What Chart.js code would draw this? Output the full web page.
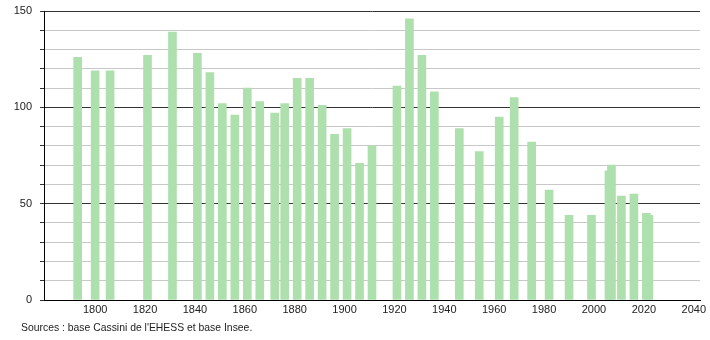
<!DOCTYPE html>
<html>
<head>
<meta charset="utf-8">
<script src="https://cdn.jsdelivr.net/npm/chart.js@4/dist/chart.umd.min.js"></script>
<style>
  html, body { margin: 0; padding: 0; background: #fff; }
  #wrap { position: relative; width: 710px; height: 340px; }
  #c { position: absolute; left: 0; top: 0; }
  #src { position: absolute; left: 21px; top: 322px; font: 10.4px "Liberation Sans", Arial, sans-serif; color: #222; white-space: nowrap; }
</style>
</head>
<body>
<div id="wrap">
  <canvas id="c" width="710" height="340"></canvas>
  <div id="src">Sources : base Cassini de l'EHESS et base Insee.</div>
</div>
<script>
const years = [1793, 1800, 1806, 1821, 1831, 1841, 1846, 1851, 1856, 1861, 1866, 1872, 1876, 1881, 1886, 1891, 1896, 1901, 1906, 1911, 1921, 1926, 1931, 1936, 1946, 1954, 1962, 1968, 1975, 1982, 1990, 1999, 2006, 2007, 2011, 2016, 2021, 2022];
const population = [126, 119, 119, 127, 139, 128, 118, 102, 96, 110, 103, 97, 102, 115, 115, 101, 86, 89, 71, 80, 111, 146, 127, 108, 89, 77, 95, 105, 82, 57, 44, 44, 67, 70, 54, 55, 45, 44];
const xTickLabels = [1800, 1820, 1840, 1860, 1880, 1900, 1920, 1940, 1960, 1980, 2000, 2020, 2040];
const yTickLabels = [0, 50, 100, 150];

const points = years.map((y, i) => ({ x: y, y: population[i] }));
const font = { family: "'Liberation Sans', Arial, sans-serif", size: 11 };

new Chart(document.getElementById('c'), {
  type: 'bar',
  data: {
    datasets: [{
      data: points,
      backgroundColor: '#ade0ad',
      borderWidth: 0,
      barThickness: 8
    }]
  },
  options: {
    responsive: false,
    animation: false,
    layout: { padding: { top: 11, right: 10, left: 0, bottom: 0 } },
    plugins: { legend: { display: false }, tooltip: { enabled: false } },
    scales: {
      x: {
        type: 'linear',
        min: 1779.5,
        max: 2042.5,
        offset: false,
        grid: { display: false, drawTicks: false, offset: false },
        border: { display: true, color: '#000', width: 1 },
        afterBuildTicks: (s) => { s.ticks = xTickLabels.map(v => ({ value: v })); },
        afterFit: (s) => { s.height = 40; s.paddingLeft = 0; s.paddingRight = 0; },
        ticks: { color: '#222', font: font, padding: 3, maxRotation: 0, callback: (v) => String(v) }
      },
      y: {
        min: 0,
        max: 150,
        grid: {
          color: (ctx) => (ctx.tick && yTickLabels.includes(ctx.tick.value)) ? '#333' : '#c8c8c8',
          tickColor: '#333',
          tickLength: 4,
          lineWidth: 1
        },
        border: { display: true, color: '#000', width: 1 },
        afterFit: (s) => { s.width = 44; s.paddingTop = 0; s.paddingBottom = 0; },
        ticks: {
          stepSize: 10,
          color: '#222',
          font: font,
          padding: 8,
          callback: (v) => yTickLabels.includes(v) ? String(v) : ''
        }
      }
    }
  }
});
</script>
</body>
</html>
